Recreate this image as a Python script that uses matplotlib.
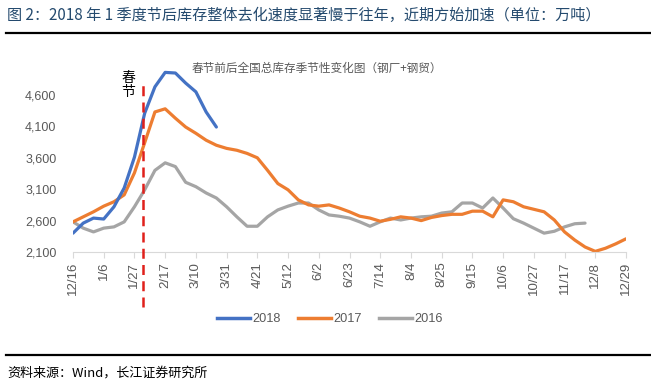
import matplotlib
matplotlib.use("Agg")
import matplotlib.pyplot as plt
from matplotlib.lines import Line2D

plt.rcParams['font.family'] = ['Noto Sans CJK SC', 'DejaVu Sans']

# ---- data ----
tick_labels = ["12/16", "1/6", "1/27", "2/17", "3/10", "3/31", "4/21", "5/12", "6/2",
               "6/23", "7/14", "8/4", "8/25", "9/15", "10/6", "10/27", "11/17", "12/8", "12/29"]
n_weeks = 55
s2018 = [2400, 2560, 2640, 2625, 2820, 3120, 3610, 4310, 4730, 4960, 4950, 4790, 4650, 4330, 4090]
s2017 = [2580, 2660, 2740, 2830, 2900, 3010, 3360, 3840, 4330, 4380, 4230, 4090, 3990, 3880, 3800,
         3750, 3720, 3670, 3600, 3400, 3190, 3090, 2930, 2850, 2830, 2850, 2800, 2740, 2670, 2640,
         2590, 2620, 2660, 2640, 2600, 2650, 2680, 2700, 2700, 2750, 2750, 2660, 2930, 2900, 2820,
         2780, 2740, 2610, 2420, 2290, 2180, 2110, 2160, 2230, 2310]
s2016 = [2580, 2480, 2420, 2480, 2500, 2580, 2820, 3090, 3400, 3520, 3460, 3210, 3140, 3040, 2960,
         2820, 2660, 2510, 2510, 2660, 2770, 2830, 2880, 2880, 2770, 2690, 2670, 2640, 2580, 2510,
         2580, 2640, 2610, 2640, 2660, 2670, 2720, 2740, 2880, 2880, 2800, 2960, 2800, 2630, 2560,
         2480, 2400, 2430, 2500, 2550, 2560]
y_ticks = [2100, 2600, 3100, 3600, 4100, 4600]
spring_festival_pos = 6.85

series = [("2018", s2018, "#4472C4"), ("2017", s2017, "#ED7D31"), ("2016", s2016, "#A5A5A5")]

W, H = 651, 384
fig = plt.figure(figsize=(W / 100, H / 100), dpi=100)

ax = fig.add_axes([73 / W, 1 - 252 / H, 553 / W, (252 - 63.6) / H])
# draw order: 2016 bottom, then 2017, then 2018 on top
for name, vals, col in reversed(series):
    ax.plot(range(len(vals)), vals, color=col, lw=2.3, solid_capstyle='round', solid_joinstyle='round')

ax.set_xlim(0, n_weeks - 1)
ax.set_ylim(2100, 5100)
ax.set_yticks(y_ticks)
ax.set_yticklabels([f"{v:,}" for v in y_ticks], fontfamily='Liberation Sans', fontsize=9, color='#595959')
ax.set_xticks(range(0, n_weeks, 3))
ax.set_xticklabels(tick_labels, rotation=90, fontfamily='Liberation Sans', fontsize=9.5, color='#595959')
for sp in ['top', 'right', 'left']:
    ax.spines[sp].set_visible(False)
ax.spines['bottom'].set_color('#d9d9d9')
ax.tick_params(axis='y', length=0, pad=12)
ax.tick_params(axis='x', length=4, color='#d9d9d9', pad=3)

# spring festival marker
ax.plot([spring_festival_pos, spring_festival_pos], [1224, 4807], color='#E0201B', lw=1.8,
        ls=(0, (4, 2.5)), clip_on=False, zorder=5)
fig.text(128 / W, 1 - 85 / H, "春\n节", fontsize=10, color='black', ha='center', va='center',
         linespacing=1.0)

# chart subtitle
fig.text(192 / W, 1 - 68 / H, "春节前后全国总库存季节性变化图（钢厂+钢贸）", fontsize=8.4,
         color='#595959', ha='left', va='center')

# legend
handles = [Line2D([0], [0], color=c, lw=2.5) for _, _, c in series]
fig.legend(handles, [n for n, _, _ in series], loc='center', bbox_to_anchor=(330 / W, 1 - 319 / H),
           ncol=3, frameon=False, handlelength=2.6, handletextpad=0.2, columnspacing=1.3,
           prop={'family': 'Liberation Sans', 'size': 9.2}, labelcolor='#595959')

# title, rules, source
fig.text(7 / W, 1 - 15 / H, "图 2：2018 年 1 季度节后库存整体去化速度显著慢于往年，近期方始加速（单位：万吨）",
         fontsize=10.9, color='#244a6e', ha='left', va='center')
fig.add_artist(Line2D([6 / W, 1], [1 - 33 / H, 1 - 33 / H], color='black', lw=1.6))
fig.add_artist(Line2D([6 / W, 1], [1 - 355 / H, 1 - 355 / H], color='black', lw=1.6))
fig.text(7 / W, 1 - 373 / H, "资料来源：Wind，长江证券研究所", fontsize=9.4, color='black',
         ha='left', va='center')

fig.savefig("out.png", dpi=100)
